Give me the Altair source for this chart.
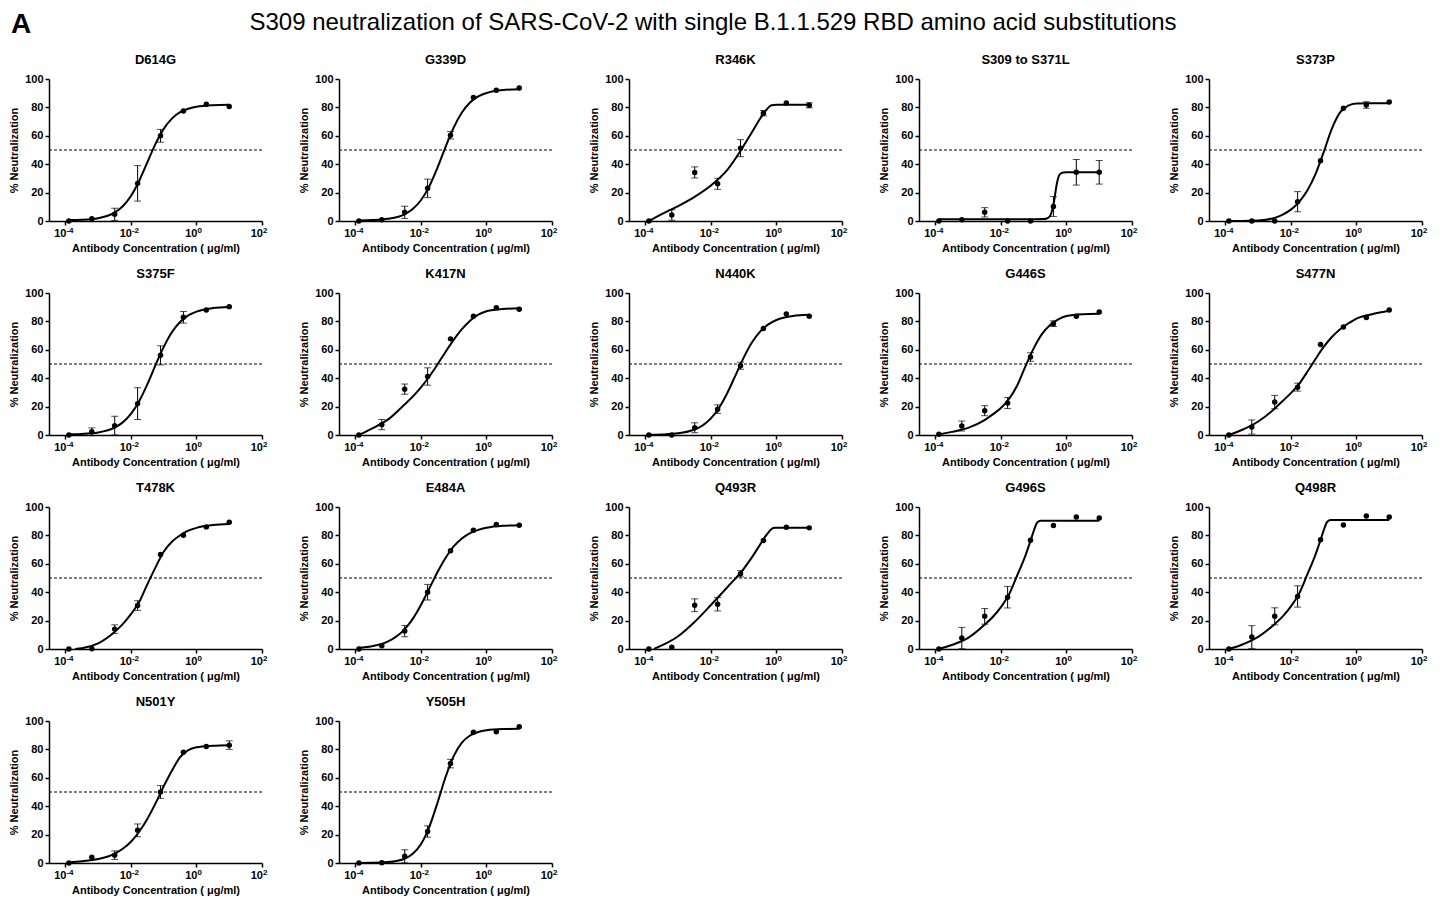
import altair as alt
import pandas as pd

# ---------------- data ----------------
PANELS = ["D614G", "G339D", "R346K", "S309 to S371L", "S373P",
          "S375F", "K417N", "N440K", "G446S", "S477N",
          "T478K", "E484A", "Q493R", "G496S", "Q498R",
          "N501Y", "Y505H"]

# antibody concentrations (ug/ml), 5-fold dilution series
CONC = [0.000128, 0.00064, 0.0032, 0.016, 0.08, 0.4, 2.0, 10.0]

MEAN = {
    "D614G": [0, 1.6, 4.7, 26.5, 60, 77.5, 82.2, 80.6],
    "G339D": [0, 0.9, 6.1, 23, 60.4, 86.9, 92, 93.7],
    "R346K": [0, 4.2, 34.2, 26.2, 51.3, 75.9, 83.1, 81.5],
    "S309 to S371L": [0, 0.9, 6.1, 0, 0, 10.2, 34.3, 34.3],
    "S373P": [0, 0, 0, 13.6, 42.4, 79.4, 81.7, 83.8],
    "S375F": [0, 2.3, 6.6, 22.1, 56.1, 82.9, 88, 90.4],
    "K417N": [0, 7.3, 32.3, 41.2, 67.7, 83.6, 89.7, 88.5],
    "N440K": [0, 0, 5.1, 18.2, 48.8, 75, 85.3, 83.6],
    "G446S": [0.5, 6.3, 17.1, 22.5, 54.9, 78.4, 83.6, 86.6],
    "S477N": [0, 5.6, 23.2, 33.7, 63.7, 76.1, 82.7, 88.1],
    "T478K": [0, 0.2, 14, 30.6, 66.6, 80.1, 86, 89.3],
    "E484A": [0, 2.3, 12.6, 40, 69.2, 83.6, 87.6, 87.1],
    "Q493R": [0, 1.2, 30.8, 31.5, 53, 76.4, 85.7, 85.3],
    "G496S": [0, 7.7, 23, 36.5, 76.6, 86.9, 93, 92.3],
    "Q498R": [0, 8.4, 23, 37, 77, 87.4, 93.7, 93],
    "N501Y": [0, 4, 5.5, 23, 50, 78, 82, 83],
    "Y505H": [0, 0.2, 4.7, 22.2, 70, 92, 92.5, 96],
}

SEM = {
    "D614G": [0, 0, 4.3, 12.5, 4.5, 0, 0, 0],
    "G339D": [0, 0, 4.3, 6.5, 2.6, 0, 0, 0],
    "R346K": [0, 3.7, 3.9, 3.9, 6, 1.9, 0, 1.8],
    "S309 to S371L": [0, 0, 3.3, 0, 0, 7, 9, 8.3],
    "S373P": [0, 0, 0, 7.1, 0, 0, 2.3, 0],
    "S375F": [0, 2.7, 6.6, 11.2, 6.7, 4.1, 0, 0],
    "K417N": [0, 3.6, 3.6, 6.1, 0, 0, 0, 0],
    "N440K": [0, 0, 3.5, 3, 2.5, 0, 0, 0],
    "G446S": [0, 3.5, 3.5, 3.9, 3, 2, 0, 0],
    "S477N": [0, 5, 4.7, 2.8, 0, 0, 0, 0],
    "T478K": [0, 0, 3, 3.4, 0, 0, 0, 0],
    "E484A": [0, 0, 4, 5.5, 0, 0, 0, 0],
    "Q493R": [0, 0, 4.5, 4.7, 2.2, 0, 0, 0],
    "G496S": [0, 7.5, 5.5, 7.6, 0, 0, 0, 0],
    "Q498R": [0, 8, 6, 7.5, 0, 0, 0, 0],
    "N501Y": [0, 0, 3, 4.5, 4.5, 0, 0, 3],
    "Y505H": [0, 0, 4.6, 4, 3, 0, 0, 0],
}

# fitted curves (log10 concentration, % neutralization)
GRID = [-3.89, -3.5, -3.0, -2.5, -2.25, -2.0, -1.75, -1.5, -1.25, -1.0,
        -0.75, -0.5, -0.25, 0.0, 0.5, 1.0]
CURVE_LOGX = {
    "R346K": [-3.89, -3.5, -3.0, -2.5, -2.0, -1.5, -1.0, -0.75, -0.5, -0.3,
              -0.15, 0.0, 0.5, 1.0],
    "S309 to S371L": [-3.89, -3.0, -2.0, -1.0, -0.7, -0.6, -0.5, -0.45, -0.4,
                      -0.35, -0.3, -0.25, -0.2, -0.1, 0.0, 0.5, 1.0],
    "T478K": [-3.7, -3.5, -3.0, -2.5, -2.25, -2.0, -1.75, -1.5, -1.25, -1.0,
              -0.75, -0.5, -0.25, 0.0, 0.5, 1.0],
    "Q493R": [-3.74, -3.5, -3.0, -2.5, -2.0, -1.5, -1.0, -0.75, -0.5, -0.3,
              -0.15, -0.05, 0.5, 1.0],
    "G496S": [-3.89, -3.5, -3.0, -2.5, -2.25, -2.0, -1.75, -1.5, -1.25, -1.1,
              -1.0, -0.9, -0.8, -0.5, 0.0, 1.0],
    "Q498R": [-3.89, -3.5, -3.0, -2.5, -2.25, -2.0, -1.75, -1.5, -1.25, -1.1,
              -1.0, -0.9, -0.8, -0.5, 0.0, 1.0],
}
CURVE_Y = {
    "D614G": [0.65, 0.9, 2.0, 5.9, 10.4, 17.6, 28.2, 41.3, 54.3, 64.9, 72.1, 76.6, 79.1, 80.5, 81.6, 81.9],
    "G339D": [0.4, 0.65, 1.6, 4.7, 8.4, 14.6, 24.2, 37.2, 52.0, 65.8, 76.4, 83.5, 87.7, 90.1, 92.2, 92.8],
    "R346K": [0, 4.8, 10.5, 17, 25, 36, 53, 62.5, 72, 78.5, 81.5, 81.8, 81.8, 81.8],
    "S309 to S371L": [1.3, 1.3, 1.3, 1.3, 1.4, 1.8, 3.5, 6.5, 11, 18, 25.5, 30.5, 33, 34.1, 34.3, 34.3, 34.3],
    "S373P": [0, 0, 0.3, 2.2, 4.5, 8, 13.5, 21.5, 33, 48.5, 65, 76.5, 81.2, 82.7, 83, 83],
    "S375F": [0.5, 0.76, 1.8, 5.2, 8.9, 14.9, 23.8, 35.7, 49.2, 62.0, 72.4, 79.6, 84.2, 86.9, 89.4, 90.2],
    "K417N": [0, 4.5, 11, 21.5, 27, 33.5, 41, 49.5, 58.5, 67, 74.5, 80.5, 84.7, 87.2, 88.8, 89.2],
    "N440K": [0.14, 0.36, 1.19, 3.9, 6.8, 11.7, 19.2, 29.6, 42.0, 54.5, 65.1, 72.8, 77.9, 81.0, 83.8, 84.6],
    "G446S": [0.5, 2.2, 5.0, 10.5, 14.5, 19, 25.5, 35, 48.5, 61, 71, 77.5, 81.5, 83.8, 85, 85.3],
    "S477N": [0, 3.5, 9.5, 18.5, 24, 29.5, 36, 44.5, 53.5, 62, 69, 74.5, 78.5, 82, 85.2, 87.5],
    "T478K": [0, 0.5, 4, 12, 17.5, 24.5, 33, 45.5, 57.5, 68.5, 75.5, 80, 83.3, 85.3, 87.3, 88],
    "E484A": [0.8, 1.9, 5.3, 13.8, 21.2, 31.0, 42.3, 53.9, 64.1, 72.2, 77.8, 81.6, 83.9, 85.4, 86.8, 87.2],
    "Q493R": [0, 2.5, 9, 19, 31, 43.5, 56.5, 64.5, 73.5, 80.5, 84.5, 85.3, 85.3, 85.3],
    "G496S": [0, 2.8, 7.8, 17, 22.5, 29.5, 38.5, 52, 66, 76, 83, 88.8, 90.4, 90.4, 90.4, 90.4],
    "Q498R": [0, 3, 8.5, 17.5, 23, 30, 39, 52.5, 66.5, 76.5, 83.5, 89.3, 90.9, 90.9, 90.9, 90.9],
    "N501Y": [0.5, 1.2, 2.8, 6.5, 10, 15, 22, 31, 42, 54, 65, 74.5, 79.5, 81.5, 82.6, 83],
    "Y505H": [0.04, 0.13, 0.63, 3.0, 6.5, 13.2, 25.1, 42.0, 60.4, 75.3, 84.8, 89.8, 92.3, 93.5, 94.3, 94.5],
}

THRESHOLD = [50]
X_TICKS = [1e-4, 1e-2, 1, 100]
X_TICK_BASE = ["10", "10", "10", "10"]
X_TICK_EXP = ["-4", "-2", "0", "2"]
Y_TICKS = [0, 20, 40, 60, 80, 100]
X_DOMAIN = [10 ** -4.5, 100]
Y_DOMAIN = [0, 100]

MAIN_TITLE = "S309 neutralization of SARS-CoV-2 with single B.1.1.529 RBD amino acid substitutions"
PANEL_LETTER = "A"
X_TITLE = "Antibody Concentration ( μg/ml)"
Y_TITLE = "% Neutralization"

FONT = "Liberation Sans"
W, H = 213, 142
COL_GAP, ROW_GAP = 77, 72
GRID_W = 5 * W + 4 * COL_GAP

xscale = alt.Scale(type="log", domain=X_DOMAIN, nice=False)
yscale = alt.Scale(domain=Y_DOMAIN, nice=False, zero=True)
xaxis = alt.Axis(values=X_TICKS, labels=False, title=X_TITLE, titlePadding=17)
yaxis = alt.Axis(values=Y_TICKS, title=Y_TITLE, titlePadding=5, labelPadding=2)

tick_df = pd.DataFrame({"conc": X_TICKS, "base": X_TICK_BASE, "exp": X_TICK_EXP})


def make_panel(name):
    pts = pd.DataFrame({"conc": CONC, "mean": MEAN[name], "err": SEM[name]})
    pts["lo"] = pts["mean"] - pts["err"]
    pts["hi"] = pts["mean"] + pts["err"]
    eb = pts[pts["err"] > 0]
    lx = CURVE_LOGX.get(name, GRID)
    cur = pd.DataFrame({"conc": [10 ** v for v in lx], "val": CURVE_Y[name]})

    X = alt.X("conc:Q", scale=xscale, axis=xaxis)
    ref = alt.Chart(pd.DataFrame({"t": THRESHOLD})).mark_rule(
        color="black", strokeWidth=1, strokeDash=[3, 2]
    ).encode(y=alt.Y("t:Q", scale=yscale, axis=yaxis))
    line = alt.Chart(cur).mark_line(
        color="black", strokeWidth=2, interpolate="monotone"
    ).encode(x=X, y=alt.Y("val:Q", scale=yscale, axis=yaxis))
    bars = alt.Chart(eb).mark_errorbar(
        ticks=True, size=7, thickness=1, color="black"
    ).encode(x=X, y=alt.Y("lo:Q", scale=yscale, axis=yaxis), y2="hi:Q")
    dots = alt.Chart(pts).mark_circle(
        size=30, color="black", opacity=1
    ).encode(x=X, y=alt.Y("mean:Q", scale=yscale, axis=yaxis))
    lab_base = alt.Chart(tick_df).mark_text(
        font=FONT, fontSize=11, fontWeight="bold", align="right",
        baseline="alphabetic", color="black", dx=1
    ).encode(x=X, y=alt.value(H + 16), text="base:N")
    lab_exp = alt.Chart(tick_df).mark_text(
        font=FONT, fontSize=8, fontWeight="bold", align="left",
        baseline="alphabetic", color="black", dx=1
    ).encode(x=X, y=alt.value(H + 12), text="exp:N")
    return alt.layer(ref, line, bars, dots, lab_base, lab_exp).properties(
        width=W, height=H,
        title=alt.TitleParams(name, font=FONT, fontSize=13, fontWeight="bold",
                              color="black", offset=6, anchor="middle"),
    )


grid = alt.concat(
    *[make_panel(n) for n in PANELS], columns=5,
    spacing={"row": ROW_GAP, "column": COL_GAP}, bounds="flush"
)

head_letter = alt.Chart(pd.DataFrame({"t": [PANEL_LETTER]})).mark_text(
    font=FONT, fontSize=28, fontWeight="bold", align="left",
    baseline="alphabetic", color="black"
).encode(text="t:N", x=alt.value(-38), y=alt.value(22))
head_title = alt.Chart(pd.DataFrame({"t": [MAIN_TITLE]})).mark_text(
    font=FONT, fontSize=24, align="center", baseline="alphabetic", color="black"
).encode(text="t:N", x=alt.value(664), y=alt.value(19))
header = alt.layer(head_letter, head_title).properties(width=GRID_W, height=26)

chart = alt.vconcat(header, grid, spacing=15).properties(
    padding={"left": 0, "top": 3, "right": 5, "bottom": 0},
    background="white",
).configure_view(stroke=None).configure_axis(
    grid=False, domainColor="black", domainWidth=1.5, tickColor="black",
    tickWidth=1.5, tickSize=4, labelFont=FONT, labelFontSize=11,
    labelFontWeight="bold", labelColor="black", titleFont=FONT,
    titleFontSize=11, titleFontWeight="bold", titleColor="black",
)

chart.save("out.html", embed_options={"renderer": "svg", "actions": False})
